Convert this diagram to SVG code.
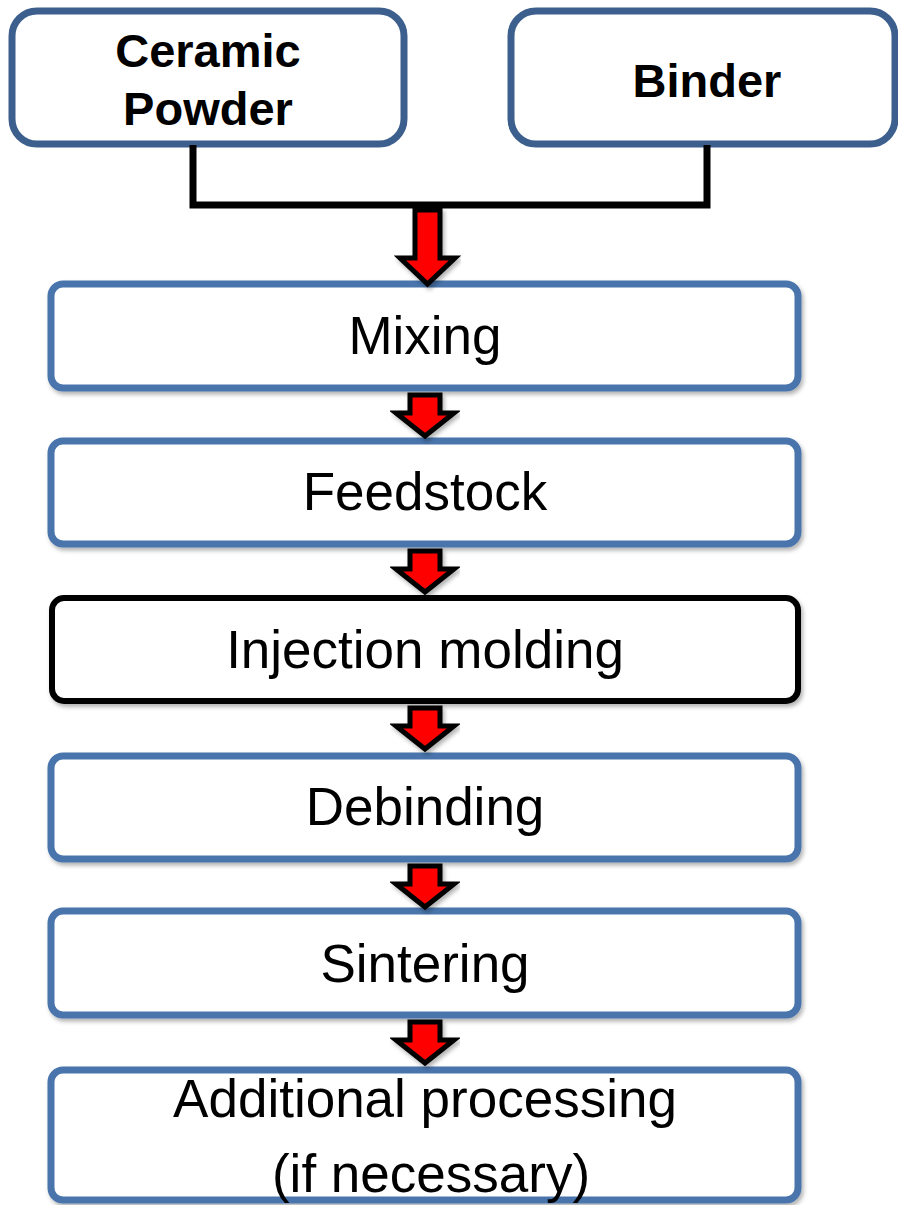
<svg xmlns="http://www.w3.org/2000/svg" width="898" height="1205" viewBox="0 0 898 1205">
<defs>
<filter id="sh" x="-10%" y="-10%" width="120%" height="130%">
<feDropShadow dx="2" dy="3" stdDeviation="2" flood-color="#000" flood-opacity="0.3"/>
</filter>
</defs>
<style>
.top{fill:#fff;stroke:#3C5F8D;stroke-width:7}
.box{fill:#fff;stroke:#4874AC;stroke-width:7;filter:url(#sh)}
.boxk{fill:#fff;stroke:#000;stroke-width:6;filter:url(#sh)}
.tb{font-family:"Liberation Sans",Arial,sans-serif;font-weight:bold;font-size:47px;fill:#000;text-anchor:middle}
.t{font-family:"Liberation Sans",Arial,sans-serif;font-size:53px;fill:#000;text-anchor:middle}
.ln{fill:none;stroke:#000;stroke-width:7;stroke-linejoin:miter}
.ar{fill:#FF0000;stroke:#000;stroke-width:5;stroke-linejoin:miter;filter:url(#sh)}
</style>
<g id="ceramic-powder">
<rect class="top" x="12" y="11" width="392" height="133" rx="25"/>
<text class="tb" x="208" y="67">Ceramic</text>
<text class="tb" x="208" y="125">Powder</text>
</g>
<g id="binder">
<rect class="top" x="511" y="11" width="384" height="133" rx="25"/>
<text class="tb" x="707" y="97">Binder</text>
</g>
<g id="mixing">
<rect class="box" x="51" y="284" width="747" height="104" rx="12"/>
<text class="t" x="425" y="354">Mixing</text>
</g>
<g id="feedstock">
<rect class="box" x="51" y="441" width="747" height="103" rx="12"/>
<text class="t" x="425" y="510">Feedstock</text>
</g>
<g id="injection-molding">
<rect class="boxk" x="52" y="598" width="746" height="103" rx="12"/>
<text class="t" x="425" y="668">Injection molding</text>
</g>
<g id="debinding">
<rect class="box" x="51" y="756" width="747" height="103" rx="12"/>
<text class="t" x="425" y="825">Debinding</text>
</g>
<g id="sintering">
<rect class="box" x="51" y="911" width="747" height="104" rx="12"/>
<text class="t" x="425" y="982">Sintering</text>
</g>
<g id="additional-processing">
<rect class="box" x="51" y="1070" width="747" height="130" rx="12"/>
<text class="t" x="425" y="1117">Additional processing</text>
<text class="t" x="431" y="1192">(if necessary)</text>
</g>
<g id="connectors">
<path class="ln" d="M193,145 V205 H707 V145"/>
<path class="ar" d="M415,210 H440 V258 H455 L427.5,284 L400,258 H415 Z"/>
<path class="ar" d="M410,395 H440 V413 H454 L425,436 L396,413 H410 Z"/>
<path class="ar" d="M410,551 H440 V569 H454 L425,592 L396,569 H410 Z"/>
<path class="ar" d="M410,708 H440 V726 H454 L425,749 L396,726 H410 Z"/>
<path class="ar" d="M410,866 H440 V884 H454 L425,907 L396,884 H410 Z"/>
<path class="ar" d="M410,1022 H440 V1040 H454 L425,1063 L396,1040 H410 Z"/>
</g>
</svg>
